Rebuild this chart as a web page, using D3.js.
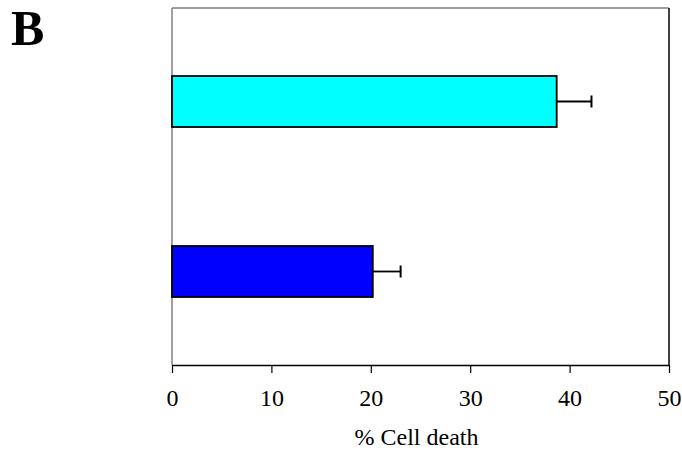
<!DOCTYPE html>
<html>
<head>
<meta charset="utf-8">
<script src="https://cdn.jsdelivr.net/npm/d3@7"></script>
<style>
  body { margin: 0; background: #fff; }
  text { font-family: "Liberation Serif", "Times New Roman", serif; }
</style>
</head>
<body>
<div class="graph"></div>
<script>
// data
const categories = ['A', 'B'];          // top bar, bottom bar
const values = [38.7, 20.2];
const errors = [3.5, 2.8];
const colors = ['#00ffff', '#0000ff'];
const xTicks = [0, 10, 20, 30, 40, 50];

var margin = {top: 8, right: 13, bottom: 86, left: 172},
    W = 682, H = 451,
    width = W - margin.left - margin.right,
    height = H - margin.top - margin.bottom;

var svg = d3.select(".graph")
  .append("svg")
    .attr("width", W)
    .attr("height", H);

// panel letter
svg.append("text")
  .attr("x", 11)
  .attr("y", 45)
  .attr("font-size", 50)
  .attr("font-weight", "bold")
  .text("B");

var g = svg.append("g")
  .attr("transform", "translate(" + margin.left + "," + margin.top + ")");

var x = d3.scaleLinear()
  .domain([0, 50])
  .range([0, width]);

var y = d3.scaleBand()
  .domain(categories)
  .range([0, height])
  .paddingInner(0.7)
  .paddingOuter(0.4);

// plot frame
g.append("line").attr("x1", 0).attr("x2", width).attr("y1", 0).attr("y2", 0)
  .attr("stroke", "#808080").attr("stroke-width", 1.5);
g.append("line").attr("x1", 0).attr("x2", 0).attr("y1", 0).attr("y2", height)
  .attr("stroke", "#808080").attr("stroke-width", 1.5);
g.append("line").attr("x1", width).attr("x2", width).attr("y1", 0).attr("y2", height)
  .attr("stroke", "#000").attr("stroke-width", 1.5);

// bars
g.selectAll(".bar")
  .data(categories)
  .enter().append("rect")
    .attr("x", x(0))
    .attr("y", d => y(d))
    .attr("width", (d, i) => x(values[i]) - x(0))
    .attr("height", y.bandwidth())
    .attr("fill", (d, i) => colors[i])
    .attr("stroke", "#000")
    .attr("stroke-width", 1.8);

// error bars
var eb = g.selectAll(".err")
  .data(categories)
  .enter().append("g");

eb.append("line")
  .attr("x1", (d, i) => x(values[i]))
  .attr("x2", (d, i) => x(values[i] + errors[i]))
  .attr("y1", d => y(d) + y.bandwidth() / 2)
  .attr("y2", d => y(d) + y.bandwidth() / 2)
  .attr("stroke", "#000").attr("stroke-width", 1.8);

eb.append("line")
  .attr("x1", (d, i) => x(values[i] + errors[i]))
  .attr("x2", (d, i) => x(values[i] + errors[i]))
  .attr("y1", d => y(d) + y.bandwidth() / 2 - 6)
  .attr("y2", d => y(d) + y.bandwidth() / 2 + 6)
  .attr("stroke", "#000").attr("stroke-width", 2);

// x axis
var xAxis = g.append("g")
  .attr("transform", "translate(0," + height + ")")
  .call(d3.axisBottom(x).tickValues(xTicks).tickSize(8).tickSizeOuter(0).tickPadding(16));

xAxis.select(".domain").attr("stroke", "#000").attr("stroke-width", 1.5);
xAxis.selectAll(".tick line").attr("stroke", "#000").attr("stroke-width", 1.2);
xAxis.selectAll("text")
  .attr("font-size", 24)
  .attr("font-family", "Liberation Serif, serif")
  .attr("fill", "#000");

// axis title
g.append("text")
  .attr("x", width / 2 - 4)
  .attr("y", height + 80)
  .attr("text-anchor", "middle")
  .attr("font-size", 24)
  .text("% Cell death");
</script>
</body>
</html>
